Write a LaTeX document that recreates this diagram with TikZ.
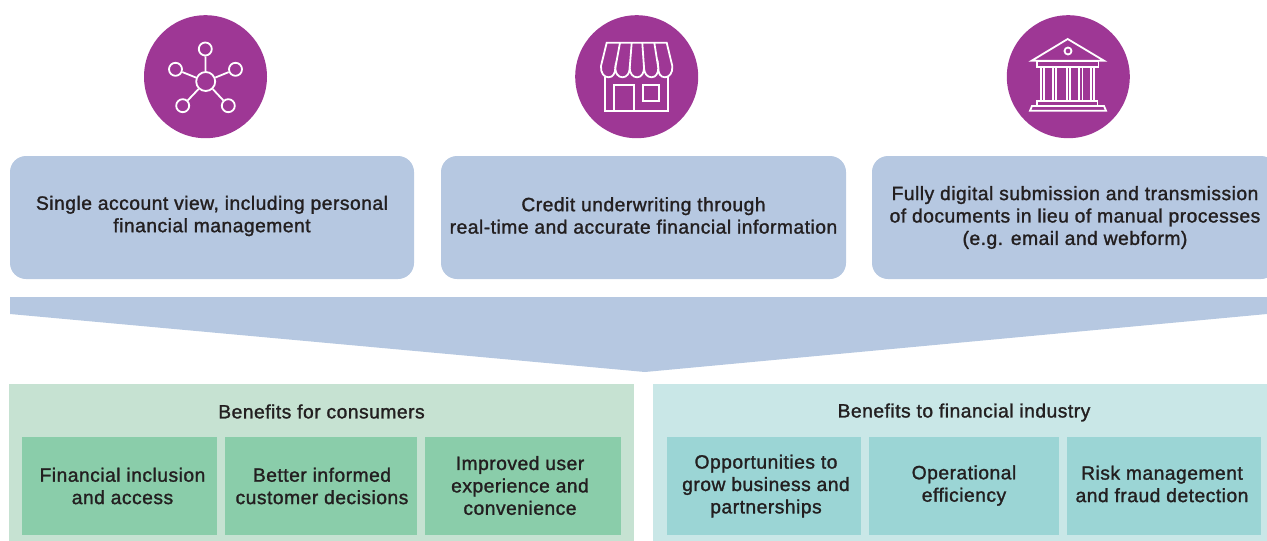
\documentclass[tikz,border=0pt]{standalone}
\usepackage{fontspec}
\setmainfont[FakeBold=1.4,LetterSpace=2.6]{Liberation Sans}
\definecolor{purp}{HTML}{9E3795}
\definecolor{cardc}{HTML}{B6C8E1}
\definecolor{gl}{HTML}{C6E2D2}
\definecolor{gd}{HTML}{8ACDAA}
\definecolor{tl}{HTML}{C9E7E7}
\definecolor{td}{HTML}{9BD5D5}
\definecolor{ink}{HTML}{231F20}
\tikzset{
 x=1pt,y=-1pt,
 badge/.style={circle,fill=purp,minimum size=123pt,inner sep=0pt},
 card/.style={rectangle,fill=cardc,rounded corners=16pt,minimum height=123pt,inner sep=0pt},
 panel/.style={rectangle,inner sep=0pt,minimum height=157pt},
 tile/.style={rectangle,inner sep=0pt,minimum height=98pt},
 txt/.style={text=ink,font=\fontsize{19.25}{22.4}\selectfont,align=center,inner sep=0pt},
 ico/.style={draw=white,line width=1.8pt,line join=miter},
}
\begin{document}
\begin{tikzpicture}
\useasboundingbox (0,0) rectangle (1267,541);
\clip (0,0) rectangle (1267,541);
% badges
\node[badge] (b1) at (205.5,76.7) {};
\node[badge] (b2) at (636.7,76.7) {};
\node[badge] (b3) at (1068.3,76.7) {};
% icon 1
\begin{scope}[ico]
\node[circle,draw=white,line width=1.8pt,minimum size=19pt,inner sep=0pt] (hub) at (205.7,81.5) {};
\foreach \n/\p in {s1/{(205.3,49)},s2/{(175.5,69.3)},s3/{(235.5,69.3)},s4/{(182.7,105.7)},s5/{(228.3,105.7)}}{
 \node[circle,draw=white,line width=1.8pt,minimum size=13pt,inner sep=0pt] (\n) at \p {};
 \draw (hub) -- (\n);
}
\end{scope}
% icon 2
\begin{scope}[ico]
\draw (606.7,42.7) -- (666.7,42.7) -- (672.3,66)
 .. controls (673,73) and (669,77.3) .. (665,77.3)
 .. controls (660,77.3) and (658.3,73) .. (658.3,68)
 .. controls (658.3,73) and (656,77.3) .. (651.5,77.3)
 .. controls (647,77.3) and (644,73) .. (644,68)
 .. controls (644,73) and (641.5,77.3) .. (637,77.3)
 .. controls (632.5,77.3) and (629.7,73) .. (629.7,68)
 .. controls (629.7,73) and (627,77.3) .. (622.5,77.3)
 .. controls (618,77.3) and (615.3,73) .. (615.3,68)
 .. controls (615.3,73) and (613,77.3) .. (608.5,77.3)
 .. controls (604,77.3) and (600.5,73) .. (601,66) -- cycle;
\draw (620,42.7) -- (615.3,68);
\draw (631.7,42.7) -- (629.7,68);
\draw (642.3,42.7) -- (644,68);
\draw (654.3,42.7) -- (658.3,68);
\draw (605,77.3) -- (605,111) -- (668.3,111) -- (668.3,77.3);
\draw (614.3,111) -- (614.3,85) -- (634,85) -- (634,111);
\draw (643.3,85) rectangle (659,101);
\end{scope}
% icon 3
\begin{scope}[ico]
\draw (1067.7,39) -- (1104,60.7) -- (1031.7,60.7) -- cycle;
\node[circle,draw=white,line width=1.8pt,minimum size=7pt,inner sep=0pt] (oc) at (1068,51) {};
\draw (1037.3,60.7) rectangle (1098.5,67);
\foreach \x in {1040.7,1044,1052.7,1056,1066.7,1070,1079.3,1082.5,1090.7,1094}
 \draw (\x,67) -- (\x,100.7);
\draw (1037.3,100.7) rectangle (1097.5,106);
\draw (1030,110.7) -- (1106,110.7) -- (1104,106) -- (1032,106) -- cycle;
\end{scope}
% cards
\node[card,minimum width=404pt] (c1) at (212,217.5) {};
\node[card,minimum width=405pt] (c2) at (643.5,217.5) {};
\node[card,minimum width=405pt] (c3) at (1074.5,217.5) {};
\node[txt] (t1) at (212,216) {Single account view, including personal\\financial management};
\node[txt] (t2) at (643.5,215.5) {Credit underwriting through\\real-time and accurate financial information};
\node[txt] (t3) at (1075,217.5) {Fully digital submission and transmission\\of documents in lieu of manual processes\\(e.g. email and webform)};
% arrow
\fill[cardc] (10,297) -- (1267,297) -- (1267,314) -- (645,372) -- (10,314) -- cycle;
% panels
\node[panel,fill=gl,minimum width=625pt] (p1) at (321.5,462.5) {};
\node[panel,fill=tl,minimum width=614pt] (p2) at (960,462.5) {};
\node[txt] (h1) at (321.5,411.5) {Benefits for consumers};
\node[txt] (h2) at (964,412.5) {Benefits to financial industry};
\node[tile,fill=gd,minimum width=195pt] (a1) at (119.5,486) {};
\node[tile,fill=gd,minimum width=192pt] (a2) at (321,486) {};
\node[tile,fill=gd,minimum width=196pt] (a3) at (523,486) {};
\node[tile,fill=td,minimum width=194pt] (d1) at (764,486) {};
\node[tile,fill=td,minimum width=190pt] (d2) at (964,486) {};
\node[tile,fill=td,minimum width=194pt] (d3) at (1164,486) {};
\node[txt] (l1) at (122.5,486) {Financial inclusion\\and access};
\node[txt] (l2) at (322,486) {Better informed\\customer decisions};
\node[txt] (l3) at (520,485.5) {Improved user\\experience and\\convenience};
\node[txt] (l4) at (766,486) {Opportunities to\\grow business and\\partnerships};
\node[txt] (l5) at (964,485.5) {Operational\\efficiency};
\node[txt] (l6) at (1162,484) {Risk management\\and fraud detection};
\end{tikzpicture}
\end{document}
